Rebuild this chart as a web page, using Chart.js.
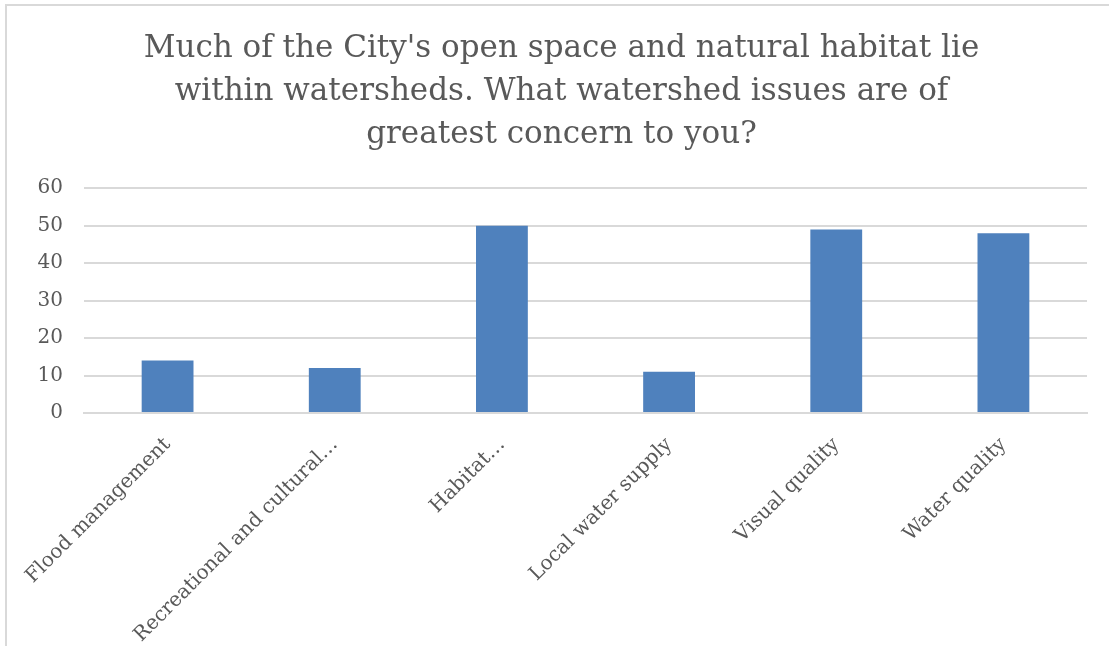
<!DOCTYPE html>
<html>
<head>
<meta charset="utf-8">
<script src="https://cdn.jsdelivr.net/npm/chart.js@4.4.0/dist/chart.umd.min.js"></script>
<style>
  html, body { margin: 0; padding: 0; background: #fff; }
  #wrap { position: relative; width: 1109px; height: 646px; }
  #frame { position: absolute; left: 5px; top: 4px; right: -2px; bottom: -2px; border-left: 2px solid #d9d9d9; border-top: 2px solid #d9d9d9; }
  canvas { position: absolute; left: 0; top: 0; }
</style>
</head>
<body>
<div id="wrap">
  <div id="frame"></div>
  <canvas id="chart" width="1109" height="646"></canvas>
</div>
<script>
var categories = ['Flood management', 'Recreational and cultural\u2026', 'Habitat\u2026', 'Local water supply', 'Visual quality', 'Water quality'];
var responses = [14, 12, 50, 11, 49, 48];
var yTicks = [0, 10, 20, 30, 40, 50, 60];
var titleLines = ["Much of the City's open space and natural habitat lie", 'within watersheds. What watershed issues are of', 'greatest concern to you?'];

var grey = '#595959';
var serif = "'DejaVu Serif', 'Liberation Serif', serif";

var ctx = document.getElementById('chart').getContext('2d');
var myChart = new Chart(ctx, {
    type: 'bar',
    data: {
        labels: categories,
        datasets: [{
            label: 'Responses',
            data: responses,
            backgroundColor: '#4f81bd',
            borderWidth: 0,
            barPercentage: 0.31,
            categoryPercentage: 1
        }]
    },
    options: {
        responsive: false,
        animation: false,
        layout: { padding: { left: 36, right: 22, top: 0, bottom: 0 } },
        plugins: {
            legend: { display: false },
            tooltip: { enabled: false },
            title: {
                display: true,
                text: titleLines,
                color: grey,
                font: { family: serif, size: 31, weight: 'normal', lineHeight: 1.39 },
                padding: { top: 27, bottom: 32 }
            }
        },
        scales: {
            x: {
                grid: { display: false, drawTicks: false },
                border: { color: '#d9d9d9', width: 2 },
                ticks: {
                    color: grey,
                    font: { family: serif, size: 20 },
                    minRotation: 45,
                    maxRotation: 45,
                    padding: 20,
                    autoSkip: false
                },
                afterFit: function (scale) { scale.height = 233; }
            },
            y: {
                min: 0,
                max: 60,
                afterBuildTicks: function (scale) {
                    scale.ticks = yTicks.map(function (v) { return { value: v }; });
                },
                grid: { color: '#d9d9d9', lineWidth: 2, drawTicks: false },
                border: { display: false },
                ticks: {
                    color: grey,
                    font: { family: serif, size: 20 },
                    padding: 21
                },
                afterFit: function (scale) { scale.width = 48; }
            }
        }
    }
});
</script>
</body>
</html>
